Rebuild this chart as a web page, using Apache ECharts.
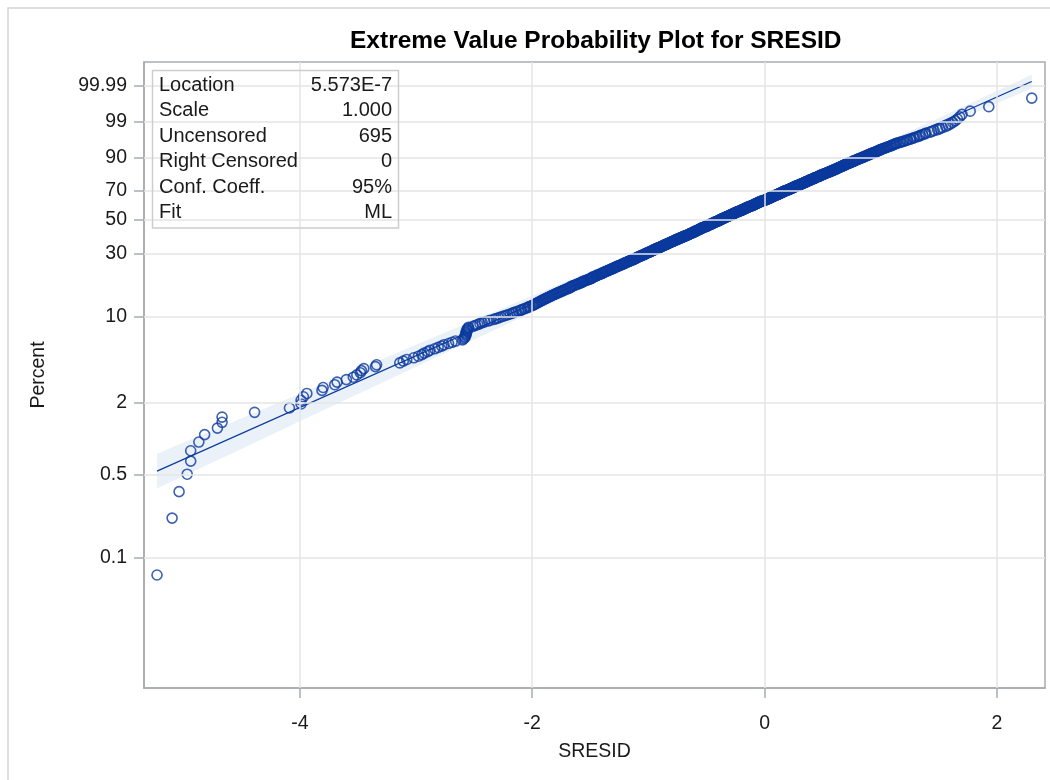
<!DOCTYPE html>
<html>
<head>
<meta charset="utf-8">
<script src="https://cdn.jsdelivr.net/npm/echarts@6/dist/echarts.min.js"></script>
<style>html,body{margin:0;padding:0;background:#fff;}#chart{width:1050px;height:780px;}</style>
</head>
<body>
<div id="chart"></div>
<script>
// ---- data ----
const titleText = 'Extreme Value Probability Plot for SRESID';
const xTicks = [-4, -2, 0, 2];
const yTickPercent = [0.1, 0.5, 2, 10, 30, 50, 70, 90, 99, 99.99];
const yTickLabels = ['0.1', '0.5', '2', '10', '30', '50', '70', '90', '99', '99.99'];
const statLabels = ['Location', 'Scale', 'Uncensored', 'Right Censored', 'Conf. Coeff.', 'Fit'];
const statValues = ['5.573E-7', '1.000', '695', '0', '95%', 'ML'];

// sorted SRESID values (ranks 1..695)
const sresid = [
-5.23,-5.10,-5.04,-4.97,-4.94,-4.94,-4.87,-4.82,-4.71,-4.67,-4.67,-4.39,-4.09,-3.99,-3.99,-3.97,-3.94,-3.81,-3.80,-3.70,
-3.68,-3.60,-3.54,-3.51,-3.48,-3.47,-3.45,-3.35,-3.34,-3.14,-3.11,-3.08,-3.02,-2.98,
-2.95,-2.93,-2.90,-2.88,-2.84,-2.81,-2.78,-2.76,-2.72,-2.69,-2.66,
-2.60,-2.59,-2.58,-2.58,-2.57,-2.57,-2.57,-2.57,-2.56,-2.56,-2.56,-2.55,-2.55,
-2.51,-2.49,-2.47,-2.45,-2.43,-2.41,-2.38,-2.36,-2.33,-2.31,-2.29,-2.27,-2.25,-2.23,-2.21,-2.19,-2.17,-2.16,-2.14,-2.12,
-2.10,-2.09,-2.07,-2.06,-2.04,-2.03,-2.02,-2.00,-1.99,-1.98,
-1.97,-1.96,-1.95,-1.94,-1.93,-1.92,-1.91,-1.90,-1.89,
-1.88,-1.87,-1.86,-1.85,-1.84,-1.83,-1.82,-1.81,-1.80,
-1.79,-1.78,-1.77,-1.76,-1.75,-1.74,-1.73,-1.72,-1.71,-1.70,
-1.69,-1.68,-1.67,-1.67,-1.66,-1.65,-1.64,-1.63,-1.62,-1.61,-1.60,
-1.59,-1.58,-1.57,-1.57,-1.56,-1.55,-1.54,-1.53,-1.52,-1.51,-1.50,-1.49,
-1.49,-1.48,-1.48,-1.47,-1.46,-1.45,-1.44,-1.44,-1.43,-1.42,-1.41,-1.40,-1.40,
-1.39,-1.38,-1.38,-1.37,-1.36,-1.35,-1.35,-1.34,-1.33,-1.32,-1.32,-1.31,-1.30,-1.30,
-1.29,-1.28,-1.28,-1.27,-1.26,-1.26,-1.25,-1.24,-1.23,-1.23,-1.22,-1.21,-1.21,-1.20,-1.20,
-1.19,-1.18,-1.18,-1.17,-1.16,-1.16,-1.15,-1.14,-1.14,-1.13,-1.12,-1.12,-1.11,-1.11,-1.10,-1.10,
-1.09,-1.09,-1.08,-1.07,-1.07,-1.06,-1.06,-1.05,-1.04,-1.04,-1.03,-1.03,-1.02,-1.02,-1.01,-1.01,-1.00,
-0.99,-0.99,-0.98,-0.98,-0.97,-0.97,-0.96,-0.96,-0.95,-0.95,-0.94,-0.94,-0.93,-0.93,-0.92,-0.91,-0.91,-0.90,
-0.90,-0.89,-0.89,-0.88,-0.88,-0.87,-0.87,-0.86,-0.86,-0.85,-0.85,-0.84,-0.84,-0.83,-0.83,-0.82,-0.82,-0.81,-0.81,-0.80,
-0.80,-0.79,-0.79,-0.78,-0.78,-0.77,-0.77,-0.76,-0.76,-0.75,-0.75,-0.74,-0.74,-0.73,-0.73,-0.72,-0.72,-0.71,-0.71,-0.70,
-0.70,-0.69,-0.69,-0.68,-0.68,-0.67,-0.67,-0.66,-0.66,-0.65,-0.65,-0.65,-0.64,-0.64,-0.63,-0.63,-0.62,-0.62,-0.61,-0.61,-0.61,-0.60,
-0.60,-0.59,-0.59,-0.58,-0.58,-0.58,-0.57,-0.57,-0.56,-0.56,-0.56,-0.55,-0.55,-0.54,-0.54,-0.54,-0.53,-0.53,-0.52,-0.52,-0.51,-0.51,-0.50,
-0.50,-0.49,-0.49,-0.49,-0.48,-0.48,-0.47,-0.47,-0.47,-0.46,-0.46,-0.45,-0.45,-0.45,-0.44,-0.44,-0.43,-0.43,-0.43,-0.42,-0.42,-0.41,-0.41,
-0.40,-0.40,-0.40,-0.39,-0.39,-0.38,-0.38,-0.38,-0.37,-0.37,-0.37,-0.36,-0.36,-0.35,-0.35,-0.35,-0.34,-0.34,-0.33,-0.33,-0.33,-0.32,-0.32,-0.31,
-0.31,-0.30,-0.30,-0.30,-0.29,-0.29,-0.29,-0.28,-0.28,-0.27,-0.27,-0.27,-0.26,-0.26,-0.26,-0.25,-0.25,-0.24,-0.24,-0.24,-0.23,-0.23,-0.22,-0.22,-0.21,
-0.21,-0.20,-0.20,-0.20,-0.19,-0.19,-0.19,-0.18,-0.18,-0.17,-0.17,-0.17,-0.16,-0.16,-0.16,-0.15,-0.15,-0.14,-0.14,-0.14,-0.13,-0.13,-0.12,-0.12,-0.11,
-0.11,-0.10,-0.10,-0.10,-0.09,-0.09,-0.09,-0.08,-0.08,-0.08,-0.07,-0.07,-0.06,-0.06,-0.06,-0.05,-0.05,-0.05,-0.04,-0.04,-0.03,-0.03,-0.03,-0.02,-0.02,-0.01,
0.00,0.00,0.01,0.01,0.02,0.02,0.02,0.03,0.03,0.03,0.04,0.04,0.05,0.05,0.05,0.06,0.06,0.06,0.07,0.07,0.08,0.08,0.08,0.09,0.09,
0.10,0.10,0.10,0.11,0.11,0.12,0.12,0.12,0.13,0.13,0.13,0.14,0.14,0.15,0.15,0.15,0.16,0.16,0.16,0.17,0.17,0.18,0.18,0.18,0.19,
0.20,0.20,0.20,0.21,0.21,0.22,0.22,0.22,0.23,0.23,0.24,0.24,0.24,0.25,0.25,0.25,0.26,0.26,0.27,0.27,0.27,0.28,0.28,0.29,0.29,
0.30,0.30,0.31,0.31,0.31,0.32,0.32,0.33,0.33,0.34,0.34,0.34,0.35,0.35,0.36,0.36,0.36,0.37,0.37,0.38,0.38,0.39,0.39,0.39,
0.40,0.40,0.41,0.41,0.42,0.42,0.43,0.43,0.43,0.44,0.44,0.45,0.45,0.46,0.46,0.47,0.47,0.47,0.48,0.48,0.49,0.49,0.50,
0.50,0.51,0.51,0.52,0.52,0.53,0.53,0.54,0.54,0.55,0.55,0.56,0.56,0.57,0.57,0.58,0.58,0.59,0.59,0.60,0.60,
0.61,0.61,0.62,0.62,0.63,0.63,0.64,0.64,0.65,0.65,0.66,0.66,0.67,0.67,0.68,0.68,0.69,0.69,0.70,0.70,
0.71,0.71,0.72,0.73,0.73,0.74,0.74,0.75,0.76,0.76,0.77,0.77,0.78,0.78,0.79,0.80,0.80,
0.81,0.81,0.82,0.83,0.84,0.84,0.85,0.86,0.86,0.87,0.88,0.88,0.89,0.90,0.90,0.91,
0.92,0.92,0.93,0.94,0.95,0.96,0.96,0.97,0.98,0.99,0.99,1.00,1.01,1.02,
1.03,1.04,1.05,1.06,1.07,1.08,1.09,1.10,1.11,1.12,1.13,
1.14,1.16,1.17,1.19,1.20,1.22,1.23,1.25,1.26,
1.28,1.29,1.31,1.33,1.34,1.36,1.38,1.39,
1.42,1.44,1.46,1.49,1.51,
1.53,1.56,1.58,1.60,1.62,
1.64,1.66,1.68,1.70,1.77,1.93,2.30
];

// fitted reference line (end points) and 95% confidence band
const fitX = [-5.23, 2.30];
const fitPercent = [0.534, 99.99534];
const ciX = [-5.23, -4.5, -4, -3.5, -3, -2.5, -2, -1.5, -1, -0.5, 0, 0.5, 1, 1.5, 2, 2.3];
const ciLowPercent = [0.3815, 0.8237, 1.3927, 2.3498, 3.9475, 6.5946, 10.903, 17.729, 28.054, 42.505, 60.334, 78.355, 91.84, 98.2875, 99.8594, 99.98403];
const ciHighPercent = [0.7459, 1.481, 2.3637, 3.7624, 5.969, 9.4046, 14.672, 22.522, 33.706, 48.557, 66.489, 83.07, 94.76, 99.2839, 99.97553, 99.998862];

// ---- probability-scale transform (extreme value) ----
const W = p => Math.log(-Math.log(1 - p / 100));
const N = sresid.length;
const plotPos = rank => 100 * (rank - 0.5) / N;

const FONT = "'Liberation Sans', Arial, sans-serif";
const BLUE = '#0b3a9e';
const FRAME = '#a6abb0';
const GRID = '#e4e4e4';
const TXT = '#1a1a1a';
const yTickW = yTickPercent.map(W);

const points = sresid.map((x, i) => [x, W(plotPos(i + 1))]);
const fitData = fitX.map((x, i) => [x, W(fitPercent[i])]);

const chart = echarts.init(document.getElementById('chart'), null, {renderer: 'canvas'});

chart.setOption({
  animation: false,
  backgroundColor: '#fff',
  title: {
    text: titleText,
    left: 350, top: 29, padding: 0,
    textStyle: {fontFamily: FONT, fontSize: 24.5, fontWeight: 'bold', color: '#000'}
  },
  grid: {
    left: 144, right: 5, top: 62, bottom: 92,
    show: true, borderColor: FRAME, borderWidth: 1.5, backgroundColor: 'transparent'
  },
  xAxis: {
    type: 'value', min: -5.342, max: 2.414,
    name: 'SRESID', nameLocation: 'middle', nameGap: 54,
    nameTextStyle: {fontFamily: FONT, fontSize: 19.5, color: TXT},
    axisLine: {show: true, onZero: false, lineStyle: {color: FRAME, width: 1.5}},
    axisTick: {show: true, length: 10, customValues: xTicks, lineStyle: {color: FRAME, width: 1.5}},
    axisLabel: {customValues: xTicks, margin: 26, fontFamily: FONT, fontSize: 19.5, color: TXT},
    splitLine: {show: false}
  },
  yAxis: {
    type: 'value', min: -9.421, max: 2.678,
    name: 'Percent', nameLocation: 'middle', nameGap: 95, nameRotate: 90,
    nameTextStyle: {fontFamily: FONT, fontSize: 19.5, color: TXT},
    axisLine: {show: true, onZero: false, lineStyle: {color: FRAME, width: 1.5}},
    axisTick: {show: true, length: 10, customValues: yTickW, lineStyle: {color: FRAME, width: 1.5}},
    axisLabel: {
      customValues: yTickW, margin: 17, fontFamily: FONT, fontSize: 19.5, color: TXT,
      formatter: v => {
        for (let k = 0; k < yTickW.length; k++) if (Math.abs(yTickW[k] - v) < 1e-6) return yTickLabels[k];
        return '';
      }
    },
    splitLine: {show: false}
  },
  graphic: [
    {type: 'rect', silent: true, z: -10,
     shape: {x: 8, y: 8, width: 1200, height: 1000},
     style: {fill: 'none', stroke: '#d4d4d4', lineWidth: 1.5}},
    {type: 'rect', z: 10, silent: true,
     shape: {x: 152.5, y: 70.5, width: 246, height: 157.5},
     style: {fill: 'none', stroke: '#cdcdcd', lineWidth: 1.5}}
  ].concat(statLabels.map((s, k) => ({
    type: 'text', z: 11, silent: true, x: 159, y: 85 + k * 25.5,
    style: {text: s, font: '20px ' + FONT, fill: TXT, textVerticalAlign: 'middle', textAlign: 'left'}
  }))).concat(statValues.map((s, k) => ({
    type: 'text', z: 11, silent: true, x: 392, y: 85 + k * 25.5,
    style: {text: s, font: '20px ' + FONT, fill: TXT, textVerticalAlign: 'middle', textAlign: 'right'}
  }))),
  series: [
    {
      type: 'line', data: [], z: 0, silent: true,
      markLine: {
        silent: true, symbol: 'none', animation: false,
        label: {show: false},
        lineStyle: {color: GRID, width: 1.5, type: 'solid'},
        emphasis: {disabled: true},
        data: xTicks.map(v => ({xAxis: v})).concat(yTickW.map(v => ({yAxis: v})))
      }
    },
    {
      type: 'custom', z: 1, silent: true, data: [0],
      renderItem: (params, api) => {
        const pts = [];
        for (let k = 0; k < ciX.length; k++) pts.push(api.coord([ciX[k], W(ciHighPercent[k])]));
        for (let k = ciX.length - 1; k >= 0; k--) pts.push(api.coord([ciX[k], W(ciLowPercent[k])]));
        return {type: 'polygon', shape: {points: pts}, style: {fill: '#ebf1f8', stroke: 'none'}};
      }
    },
    {
      type: 'line', z: 2, data: fitData, showSymbol: false, silent: true,
      lineStyle: {color: BLUE, width: 1.2}
    },
    {
      type: 'scatter', z: 3, data: points, symbol: 'circle', symbolSize: 10, silent: true,
      itemStyle: {color: 'rgba(0,0,0,0)', borderColor: BLUE, borderWidth: 1.6}
    }
  ]
});
</script>
</body>
</html>
